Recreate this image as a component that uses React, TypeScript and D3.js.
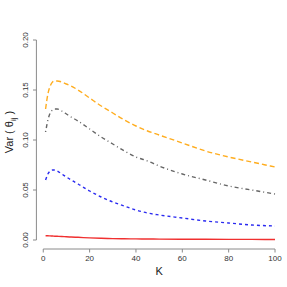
import React, { useEffect, useRef } from 'react';
import * as d3 from 'd3';

const kValues = [1, 2, 3, 4, 5, 6, 8, 10, 12, 15, 20, 25, 30, 35, 40, 45, 50, 60, 70, 80, 90, 100];
const orangeSeries = [0.131, 0.146, 0.154, 0.158, 0.159, 0.159, 0.158, 0.156, 0.154, 0.150, 0.142, 0.134, 0.127, 0.120, 0.114, 0.109, 0.105, 0.097, 0.089, 0.083, 0.078, 0.073];
const graySeries = [0.108, 0.120, 0.127, 0.130, 0.131, 0.131, 0.129, 0.126, 0.123, 0.119, 0.111, 0.103, 0.096, 0.089, 0.083, 0.079, 0.074, 0.066, 0.060, 0.054, 0.050, 0.046];
const blueSeries = [0.060, 0.066, 0.069, 0.070, 0.070, 0.069, 0.066, 0.063, 0.060, 0.056, 0.049, 0.043, 0.038, 0.034, 0.030, 0.027, 0.025, 0.022, 0.019, 0.017, 0.015, 0.014];
const redSeries = [0.0043, 0.0042, 0.0041, 0.0040, 0.0038, 0.0037, 0.0035, 0.0032, 0.0030, 0.0027, 0.0021, 0.0017, 0.0014, 0.0012, 0.0011, 0.0010, 0.0009, 0.0008, 0.0007, 0.0006, 0.0006, 0.0005];
const xTicks = [0, 20, 40, 60, 80, 100];
const yTicks = [0, 0.05, 0.1, 0.15, 0.2];

const App = () => {
  const ref = useRef<SVGSVGElement>(null);

  useEffect(() => {
    const svg = d3.select(ref.current);
    svg.selectAll('*').remove();

    // plot region (R-style, 4% padding)
    const x = d3.scaleLinear().domain([-2.96, 103.96]).range([36.4, 284.2]);
    const y = d3.scaleLinear().domain([-0.008, 0.208]).range([248, 32]);
    const font = 'Liberation Sans, Arial, sans-serif';
    const axisColor = '#8a8a8a';
    const textColor = '#333';

    // x axis
    const gx = svg.append('g');
    gx.append('line')
      .attr('x1', x(0)).attr('x2', x(100))
      .attr('y1', 249).attr('y2', 249)
      .attr('stroke', axisColor);
    xTicks.forEach(t => {
      gx.append('line')
        .attr('x1', x(t)).attr('x2', x(t))
        .attr('y1', 249).attr('y2', 252.5)
        .attr('stroke', axisColor);
      gx.append('text')
        .attr('x', x(t)).attr('y', 260.5)
        .attr('text-anchor', 'middle')
        .attr('font-family', font).attr('font-size', 8)
        .attr('fill', textColor)
        .text(t);
    });

    // y axis
    const gy = svg.append('g');
    gy.append('line')
      .attr('x1', 36.4).attr('x2', 36.4)
      .attr('y1', y(0)).attr('y2', y(0.2))
      .attr('stroke', axisColor);
    yTicks.forEach(t => {
      gy.append('line')
        .attr('x1', 36.4).attr('x2', 33)
        .attr('y1', y(t)).attr('y2', y(t))
        .attr('stroke', axisColor);
      gy.append('text')
        .attr('transform', `translate(28,${y(t)}) rotate(-90)`)
        .attr('text-anchor', 'middle')
        .attr('font-family', font).attr('font-size', 8)
        .attr('fill', textColor)
        .text(t.toFixed(2));
    });

    // axis titles
    svg.append('text')
      .attr('x', x(50)).attr('y', 275)
      .attr('text-anchor', 'middle')
      .attr('font-family', font).attr('font-size', 11)
      .attr('fill', '#222')
      .text('K');

    const yl = svg.append('text')
      .attr('transform', `translate(13,132) rotate(-90)`)
      .attr('text-anchor', 'middle')
      .attr('font-family', font).attr('font-size', 11)
      .attr('fill', '#222');
    yl.append('tspan').text('Var ( θ');
    yl.append('tspan').attr('font-size', 8).attr('dy', 3).text('ij');
    yl.append('tspan').attr('dy', -3).text(' )');

    const line = d3.line<number>()
      .curve(d3.curveMonotoneX)
      .x((_, i) => x(kValues[i]))
      .y(d => y(d));

    const series = [
      { values: redSeries, color: '#f03030', dash: null },
      { values: blueSeries, color: '#2a2af0', dash: '3,3' },
      { values: graySeries, color: '#666', dash: '1,3,4,3' },
      { values: orangeSeries, color: '#ffad1f', dash: '5,3' },
    ];

    series.forEach(s => {
      svg.append('path')
        .datum(s.values)
        .attr('fill', 'none')
        .attr('stroke', s.color)
        .attr('stroke-width', 1.4)
        .attr('stroke-dasharray', s.dash)
        .attr('d', line);
    });
  }, []);

  return (
    <svg ref={ref} width={287} height={287}
      style={{ position: 'absolute', left: 0, top: 0, background: '#fff' }} />
  );
};

export default App;
